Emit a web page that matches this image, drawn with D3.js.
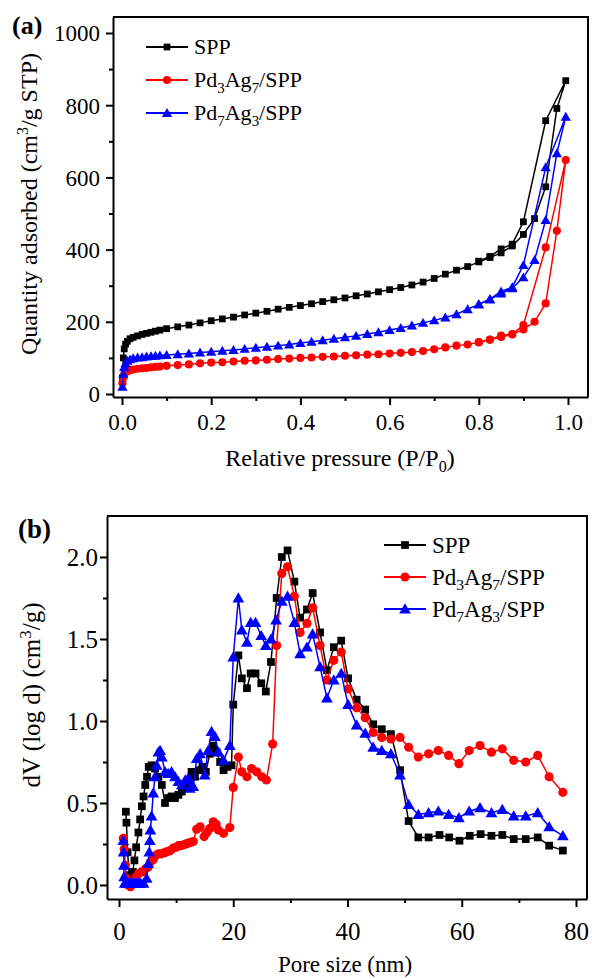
<!DOCTYPE html>
<html><head><meta charset="utf-8">
<script src="https://cdn.jsdelivr.net/npm/d3@7"></script>
<style>body{margin:0;background:#fff}svg{display:block}text{font-family:"Liberation Serif","Times New Roman",serif;fill:#000}</style>
</head><body><svg id="c" width="592" height="979"></svg>
<script>
// ---------- Panel (a): N2 isotherms ----------
const seriesNames = ["SPP", "Pd3Ag7/SPP", "Pd7Ag3/SPP"];
const seriesColors = ["#000000", "#ff0000", "#0000ff"];
const pressureAds = [0.001,0.003,0.005,0.008,0.012,0.018,0.025,0.035,0.045,0.055,0.065,0.075,0.085,0.1,0.125,0.15,0.175,0.2,0.225,0.25,0.275,0.3,0.325,0.35,0.375,0.4,0.425,0.45,0.475,0.5,0.525,0.55,0.575,0.6,0.625,0.65,0.675,0.7,0.725,0.75,0.775,0.8,0.825,0.85,0.875,0.9,0.925,0.95,0.975,0.995];
const sppAds = [45,100,125,138,146,153,157,161,165,168,171,174,177,181,186,191,197,203,208,213,219,224,229,235,240,245,250,256,261,266,272,277,283,289,295,302,310,320,332,343,353,366,378,391,410,442,486,574,791,868];
const pd37Ads = [30,45,55,60,63,66,68,70,71,72,74,75,76,78,80,82,85,87,88,90,92,93,95,97,98,100,101,103,104,106,107,109,110,112,114,116,119,124,129,134,137,143,150,158,165,179,200,251,452,648];
const pd73Ads = [20,55,75,85,92,96,99,101,102,104,105,106,107,108,110,112,115,117,120,122,125,128,131,134,137,141,145,149,153,157,161,166,171,177,183,190,197,204,212,221,235,248,262,278,293,323,371,482,667,768];
const pressureDes = [0.95,0.9,0.875,0.85,0.825,0.8];
const sppDes = [757,477,415,402,381,368];
const pd37Des = [406,191,166,162,151,144];
const pd73Des = [628,357,296,284,263,249];
const xTicksA = [0,0.2,0.4,0.6,0.8,1.0];
const yTicksA = [0,200,400,600,800,1000];

// ---------- Panel (b): pore size distribution ----------
const sppPore = [1.2,1.3,1.5,1.8,2.1,2.4,2.7,3.0,3.4,3.7,4.0,4.3,4.6,4.9,5.2,5.7,6.3,6.9,7.5,8.05,8.6,9.2,9.8,10.4,11.0,11.6,12.1,12.7,13.3,14.0,14.6,15.2,15.9,16.5,17.1,17.7,18.3,19.0,19.7,20.0,20.9,21.5,22.4,23.05,23.9,24.9,25.7,26.6,27.6,28.5,29.5,30.7,31.7,32.9,33.9,35.2,36.4,37.6,38.9,40.1,41.6,43.1,44.5,46.0,47.6,49.2,50.7,52.4,54.2,56.1,57.8,59.6,61.4,63.3,65.2,67.1,69.1,71.2,73.3,75.3,77.7];
const sppDV = [0.447,0.38,0.2,0.06,0.02,0.08,0.15,0.23,0.32,0.40,0.48,0.54,0.61,0.66,0.72,0.73,0.71,0.66,0.61,0.50,0.53,0.54,0.53,0.55,0.57,0.59,0.61,0.69,0.66,0.70,0.72,0.69,0.80,0.85,0.81,0.75,0.70,0.72,0.73,1.10,1.40,1.26,1.20,1.29,1.29,1.23,1.18,1.36,1.75,2.00,2.04,1.85,1.63,1.68,1.78,1.54,1.31,1.45,1.49,1.26,1.13,1.07,0.98,0.95,0.92,0.70,0.39,0.29,0.29,0.305,0.29,0.27,0.30,0.31,0.30,0.305,0.28,0.28,0.29,0.24,0.21];
const pd37Pore = [0.75,0.9,1.1,1.3,1.6,2.0,2.5,3.0,3.4,3.9,4.3,4.7,5.1,5.5,6.0,6.4,6.9,7.4,7.8,8.2,8.6,9.0,9.5,10.0,10.4,10.8,11.3,11.7,12.1,12.6,13.0,13.6,14.2,14.9,15.4,15.9,16.5,17.0,17.4,18.3,19.4,20.0,20.9,21.5,22.4,23.2,24.1,25.0,25.8,26.9,27.6,28.5,29.5,30.7,31.7,32.9,33.9,35.2,36.4,37.6,38.9,40.1,41.6,43.1,44.5,46.0,47.6,49.2,50.7,52.4,54.2,55.9,57.7,59.5,61.3,63.2,65.2,67.1,69.1,71.2,73.3,75.3,77.7];
const pd37DV = [0.285,0.22,0.12,0.04,0.0,-0.01,0.02,0.05,0.07,0.08,0.08,0.10,0.11,0.14,0.155,0.18,0.19,0.19,0.195,0.20,0.205,0.21,0.225,0.23,0.24,0.24,0.245,0.25,0.255,0.26,0.265,0.34,0.355,0.295,0.32,0.345,0.385,0.37,0.335,0.315,0.35,0.595,0.78,0.69,0.66,0.71,0.69,0.66,0.64,0.86,1.46,1.90,1.94,1.76,1.54,1.595,1.69,1.46,1.25,1.37,1.42,1.195,1.08,1.02,0.93,0.90,0.89,0.90,0.84,0.78,0.80,0.82,0.79,0.74,0.82,0.85,0.81,0.83,0.76,0.75,0.79,0.66,0.565];
const pd73Pore = [0.75,0.8,0.85,0.9,1.0,1.3,1.6,2.0,2.3,2.7,3.0,3.4,3.8,4.3,4.85,5.1,5.3,5.4,5.5,5.7,6.0,6.3,6.6,6.9,7.2,7.5,8.05,8.6,9.2,9.8,10.4,11.0,11.6,12.1,12.4,13.0,13.6,14.2,15.0,15.6,16.2,16.8,17.4,18.3,19.4,20.0,20.9,21.5,22.4,23.05,23.9,24.9,25.7,26.6,27.5,28.5,29.5,30.7,31.7,32.9,33.9,35.2,36.4,37.6,38.9,40.1,41.6,43.1,44.5,46.0,47.6,49.2,50.7,52.4,54.2,55.9,57.7,59.5,61.3,63.2,65.2,67.1,69.1,71.2,73.3,75.3,77.7];
const pd73DV = [0.27,0.20,0.12,0.05,0.01,0.01,0.01,0.01,0.01,0.01,0.01,0.01,0.01,0.01,0.04,0.13,0.20,0.27,0.335,0.42,0.56,0.66,0.73,0.81,0.82,0.78,0.69,0.68,0.69,0.66,0.63,0.61,0.64,0.65,0.59,0.60,0.77,0.80,0.67,0.82,0.935,0.905,0.81,0.76,0.85,1.39,1.75,1.555,1.48,1.60,1.60,1.52,1.46,1.50,1.615,1.73,1.76,1.60,1.41,1.45,1.53,1.33,1.14,1.25,1.29,1.10,0.975,0.925,0.84,0.82,0.80,0.67,0.49,0.43,0.44,0.45,0.43,0.41,0.45,0.47,0.44,0.46,0.42,0.42,0.44,0.355,0.30];
const xTicksB = [0,20,40,60,80];
const yTicksB = [0,0.5,1.0,1.5,2.0];

const svg = d3.select("#c");
const symbols = [d3.symbolSquare, d3.symbolCircle, d3.symbolTriangle];

function extend(scale, r0, r1) {
  return d3.scaleLinear().domain([scale.invert(r0), scale.invert(r1)]).range([r0, r1]);
}

function frame(g, x, y, xMajor, xMinor, yMajor, yMinor, fmtX, fmtY, fs, xLabY, yPad) {
  const [x0, x1] = x.range(), [y0, y1] = y.range();
  const xa = g.append("g").attr("transform", `translate(0,${y0})`)
    .call(d3.axisBottom(x).tickValues(xMajor).tickSize(8).tickSizeOuter(0).tickFormat(fmtX));
  xa.selectAll("text").attr("dy", null).attr("y", xLabY).style("font-size", fs + "px");
  g.append("g").attr("transform", `translate(0,${y0})`)
    .call(d3.axisBottom(x).tickValues(xMinor).tickSize(4).tickSizeOuter(0).tickFormat(""))
    .select(".domain").remove();
  const ya = g.append("g").attr("transform", `translate(${x0},0)`)
    .call(d3.axisLeft(y).tickValues(yMajor).tickSize(7).tickSizeOuter(0).tickPadding(yPad).tickFormat(fmtY));
  ya.selectAll("text").attr("dy", "0.34em").style("font-size", fs + "px");
  g.append("g").attr("transform", `translate(${x0},0)`)
    .call(d3.axisLeft(y).tickValues(yMinor).tickSize(4).tickSizeOuter(0).tickFormat(""))
    .select(".domain").remove();
  g.selectAll(".domain, .tick line").attr("stroke", "#000").attr("stroke-width", 2);
  g.selectAll(".tick text").attr("fill", "#000").style("font-family", '"Liberation Serif","Times New Roman",serif');
  g.append("path").attr("d", `M${x0},${y1}H${x1}V${y0}`).attr("fill", "none").attr("stroke", "#000").attr("stroke-width", 2);
}

function drawSeries(g, x, y, pts, i, msize, lw) {
  const line = d3.line().x(d => x(d[0])).y(d => y(d[1]));
  g.append("path").datum(pts).attr("d", line).attr("fill", "none")
    .attr("stroke", seriesColors[i]).attr("stroke-width", lw).attr("stroke-linejoin", "round");
  const sym = d3.symbol().type(symbols[i]).size(msize[i]);
  g.selectAll(null).data(pts).enter().append("path")
    .attr("d", sym).attr("fill", seriesColors[i])
    .attr("transform", d => `translate(${x(d[0])},${y(d[1]) + (i === 2 ? 1 : 0)})`);
}

function legendLabel(t, name, fs) {
  if (name === "SPP") { t.text("SPP"); return; }
  const a = name.match(/^Pd(\d)Ag(\d)(\/SPP)$/);
  t.append("tspan").text("Pd");
  t.append("tspan").attr("dy", fs * 0.25).style("font-size", (fs * 0.68) + "px").text(a[1]);
  t.append("tspan").attr("dy", -fs * 0.25).text("Ag");
  t.append("tspan").attr("dy", fs * 0.25).style("font-size", (fs * 0.68) + "px").text(a[2]);
  t.append("tspan").attr("dy", -fs * 0.25).text(a[3]);
}

function legend(g, x0, ys, fs, msize, lw) {
  seriesNames.forEach((n, i) => {
    g.append("line").attr("x1", x0).attr("x2", x0 + 42).attr("y1", ys[i]).attr("y2", ys[i])
      .attr("stroke", seriesColors[i]).attr("stroke-width", lw);
    g.append("path").attr("d", d3.symbol().type(symbols[i]).size(msize[i]))
      .attr("fill", seriesColors[i]).attr("transform", `translate(${x0 + 21},${ys[i] + (i === 2 ? 1 : 0)})`);
    const t = g.append("text").attr("x", x0 + 48).attr("y", ys[i]).attr("dy", "0.33em").style("font-size", fs + "px");
    legendLabel(t, n, fs);
  });
}

// ----- Panel (a) -----
const gA = svg.append("g");
const xA = extend(d3.scaleLinear().domain([0, 1]).range([122, 568]), 113, 588);
const yA = extend(d3.scaleLinear().domain([0, 1000]).range([394, 33]), 397, 17);
frame(gA, xA, yA, xTicksA, [0.1,0.3,0.5,0.7,0.9], yTicksA, [100,300,500,700,900],
      d3.format(".1f"), d3.format("d"), 23, 33, 6);
const adsA = [sppAds, pd37Ads, pd73Ads], desA = [sppDes, pd37Des, pd73Des];
const msA = [46, 52, 46];
[0,1,2].forEach(i => {
  const pts = pressureAds.map((p, k) => [p, adsA[i][k]]).concat(pressureDes.map((p, k) => [p, desA[i][k]]));
  drawSeries(gA, xA, yA, pts, i, msA, 1.5);
});
legend(gA, 146, [47, 80, 113], 22, msA, 2);
gA.append("text").attr("x", 340).attr("y", 466).attr("text-anchor", "middle").style("font-size", "24px")
  .call(t => { t.append("tspan").text("Relative pressure (P/P");
               t.append("tspan").attr("dy", 6).style("font-size", "16px").text("0");
               t.append("tspan").attr("dy", -6).text(")"); });
gA.append("text").attr("transform", "translate(37,204) rotate(-90)").attr("text-anchor", "middle").style("font-size", "24px")
  .call(t => { t.append("tspan").text("Quantity adsorbed (cm");
               t.append("tspan").attr("dy", -9).style("font-size", "16px").text("3");
               t.append("tspan").attr("dy", 9).text("/g STP)"); });
gA.append("text").attr("x", 12).attr("y", 34).style("font-size", "26px").style("font-weight", "bold").text("(a)");

// ----- Panel (b) -----
const gB = svg.append("g");
const xB = extend(d3.scaleLinear().domain([0, 80]).range([119, 576]), 107, 587);
const yB = extend(d3.scaleLinear().domain([0, 2]).range([885, 557]), 899, 516);
frame(gB, xB, yB, xTicksB, [10,30,50,70], yTicksB, [0.25,0.75,1.25,1.75],
      d3.format("d"), d3.format(".1f"), 25, 41, 2);
const poreB = [sppPore, pd37Pore, pd73Pore], dvB = [sppDV, pd37DV, pd73DV];
const msB = [60, 66, 60];
[0,1,2].forEach(i => {
  const pts = poreB[i].map((d, k) => [d, dvB[i][k]]);
  drawSeries(gB, xB, yB, pts, i, msB, 1.5);
});
legend(gB, 384, [545, 577, 609], 23, msB, 2);
gB.append("text").attr("x", 345).attr("y", 972).attr("text-anchor", "middle").style("font-size", "23px").text("Pore size (nm)");
gB.append("text").attr("transform", "translate(40,695) rotate(-90)").attr("text-anchor", "middle").style("font-size", "25px")
  .call(t => { t.append("tspan").text("dV (log d) (cm");
               t.append("tspan").attr("dy", -9).style("font-size", "17px").text("3");
               t.append("tspan").attr("dy", 9).text("/g)"); });
gB.append("text").attr("x", 18).attr("y", 538).style("font-size", "27px").style("font-weight", "bold").text("(b)");
</script></body></html>
